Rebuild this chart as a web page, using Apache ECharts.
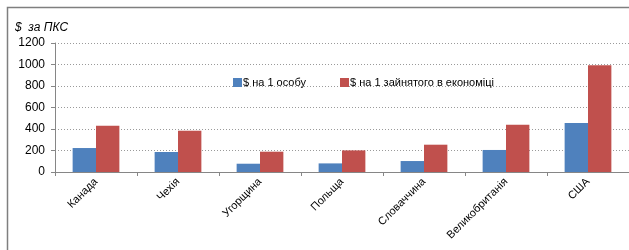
<!DOCTYPE html>
<html>
<head>
<meta charset="utf-8">
<script src="https://cdn.jsdelivr.net/npm/echarts@6/dist/echarts.min.js"></script>
<style>
  html, body { margin: 0; padding: 0; background: #fff; }
  #chart { width: 629px; height: 250px; }
</style>
</head>
<body>
<div id="chart"></div>
<script>
var countries = ['Канада', 'Чехія', 'Угорщина', 'Польща', 'Словаччина', 'Великобританія', 'США'];
var perPerson = [223, 186, 77, 80, 102, 205, 456];
var perEmployed = [430, 384, 189, 201, 254, 440, 992];
var yTicks = [0, 200, 400, 600, 800, 1000, 1200];

gerarGrafico()
function gerarGrafico(){
    var dom = document.getElementById('chart');
    var myChart = echarts.init(dom, null, { renderer: 'canvas' });

    var option = {
      animation: false,
      textStyle: { fontFamily: '"Liberation Sans", Arial, sans-serif' },
      graphic: [{
        type: 'rect',
        shape: { x: 7.5, y: 7.5, width: 700, height: 400 },
        style: { fill: 'none', stroke: '#7f7f7f', lineWidth: 1.5 },
        silent: true
      }],
      title: {
        text: '$  за ПКС',
        left: 10,
        top: 17,
        textStyle: { fontSize: 12, fontStyle: 'italic', fontWeight: 'normal', color: '#000' }
      },
      legend: {
        data: ['$ на 1 особу', '$ на 1 зайнятого в економіці'],
        left: 228,
        top: 72,
        itemWidth: 9,
        itemHeight: 9,
        itemGap: 34,
        icon: 'rect',
        textStyle: { fontSize: 11, color: '#000', padding: [0, 0, 0, -4] }
      },
      grid: { left: 55, right: 0, top: 43, bottom: 78 },
      xAxis: {
        type: 'category',
        data: countries,
        axisLine: { lineStyle: { color: '#868686' } },
        axisTick: { show: true, length: 4, lineStyle: { color: '#868686' } },
        axisLabel: { rotate: 45, fontSize: 11, color: '#000', margin: 8 }
      },
      yAxis: {
        type: 'value',
        min: yTicks[0],
        max: yTicks[yTicks.length - 1],
        interval: yTicks[1] - yTicks[0],
        axisLine: { show: true, lineStyle: { color: '#868686' } },
        axisTick: { show: true, length: 4, lineStyle: { color: '#868686' } },
        axisLabel: { fontSize: 12, color: '#000', margin: 10, formatter: function (v) { return String(v); } },
        splitLine: { lineStyle: { color: '#9a9a9a', type: [1, 2] } }
      },
      series: [
        {
          name: '$ на 1 особу',
          type: 'bar',
          data: perPerson,
          barGap: '0%',
          barCategoryGap: '43%',
          itemStyle: { color: '#4f81bd' }
        },
        {
          name: '$ на 1 зайнятого в економіці',
          type: 'bar',
          data: perEmployed,
          itemStyle: { color: '#c0504d' }
        }
      ]
    };

    myChart.setOption(option);
    window.addEventListener('resize', myChart.resize);
}
</script>
</body>
</html>
